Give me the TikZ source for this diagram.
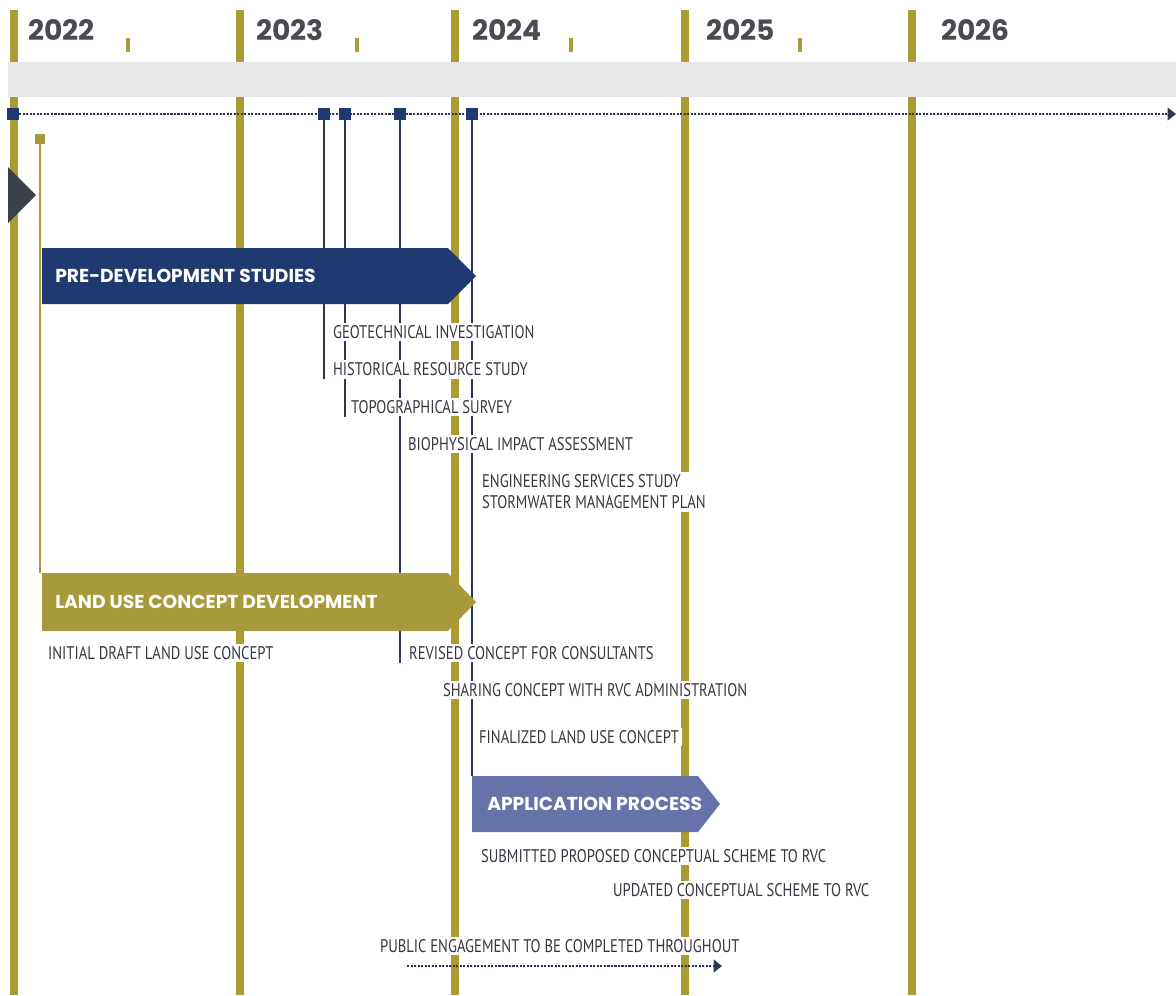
\documentclass[tikz,border=0pt]{standalone}
\usepackage{fontspec}
\setmainfont{PT Sans}
\newfontfamily\yearfont{Poppins}
\newfontfamily\narrowfont[FakeStretch=0.80]{PT Sans}
\usetikzlibrary{positioning,arrows.meta}

\definecolor{yeargold}{RGB}{170,156,48}
\definecolor{bargold}{RGB}{167,153,60}
\definecolor{navy}{RGB}{31,58,112}
\definecolor{slate}{RGB}{102,115,168}
\definecolor{band}{RGB}{230,231,233}
\definecolor{ink}{RGB}{55,55,64}
\definecolor{yearink}{RGB}{72,75,82}
\definecolor{stemink}{RGB}{45,55,85}
\definecolor{pointer}{RGB}{60,64,72}

\pgfdeclarelayer{back}
\pgfdeclarelayer{stems}
\pgfsetlayers{back,stems,main}

\begin{document}
\begin{tikzpicture}[x=0.025cm,y=-0.025cm]
    \tikzstyle{yearline}=[draw=yeargold,line width=5pt]
    \tikzstyle{halftick}=[draw=yeargold,line width=3.5pt]
    \tikzstyle{year}=[font=\yearfont\bfseries\fontsize{20}{24}\selectfont,text=yearink,anchor=west,inner sep=0pt]
    \tikzstyle{stem}=[draw=stemink,line width=0.8pt]
    \tikzstyle{milestone}=[fill=navy,minimum size=8.5pt,inner sep=0pt]
    \tikzstyle{task}=[font=\narrowfont\fontsize{13}{15}\selectfont,text=ink,fill=white,anchor=west,inner sep=2pt,align=left]
    \tikzstyle{bartext}=[font=\yearfont\bfseries\fontsize{13.3}{15}\selectfont,text=white,anchor=west,inner sep=0pt]
    \tikzstyle{dots}=[draw=stemink,line width=2pt,dash pattern=on 1.5pt off 1pt]

    \useasboundingbox (0,0) rectangle (1176,995);

    % years
    \begin{pgfonlayer}{back}
    \foreach \x/\yr/\lx in {14/2022/28, 240/2023/256, 455/2024/472, 685/2025/706, 912/2026/941} {
        \draw[yearline] (\x,10) -- (\x,995);
        \node (y\yr) [year] at (\lx,30) {\yr};
    }
    \foreach \x in {128,357,571,800}
        \draw[halftick] (\x,38) -- (\x,52);
    \fill[band] (8,62) rectangle (1176,97);
    \end{pgfonlayer}

    % bars
    \fill[navy]    (42,248) -- (448,248) -- (476,276) -- (448,304) -- (42,304) -- cycle;
    \fill[bargold] (42,573) coordinate (lutop) -- (448,573) -- (476,602) -- (448,631) -- (42,631) -- cycle;
    \fill[slate]   (472,776) coordinate (appnw) -- (698,776) -- (720,804) -- (698,832) -- (472,832) -- cycle;
    \node (predev)  [bartext] at (55,276)  {PRE-DEVELOPMENT STUDIES};
    \node (landuse) [bartext] at (55,602)  {LAND USE CONCEPT DEVELOPMENT};
    \node (app)     [bartext] at (487,804) {APPLICATION PROCESS};
    \fill[pointer] (8,167) -- (36,195) -- (8,223) -- cycle;

    % timeline
    \node (m0) [milestone] at (13,114) {};
    \node (m1) [milestone] at (324,114) {};
    \node (m2) [milestone] at (345,114) {};
    \node (m3) [milestone] at (400,114) {};
    \node (m4) [milestone] at (472,114) {};
    \coordinate (tlend) at (1176,114);
    \begin{pgfonlayer}{back}
    \draw[dots,-{Triangle[length=6pt,width=9pt]},fill=stemink] (m0.east) -- (tlend);
    \end{pgfonlayer}

    \node (start) [fill=bargold,minimum size=7pt,inner sep=0pt] at (40,139) {};

    % labels
    \node (geo)       [task] at (330,332) {GEOTECHNICAL INVESTIGATION};
    \node (hist)      [task, below right=0.45cm and 0cm of geo.south west] {HISTORICAL RESOURCE STUDY};
    \node (topo)      [task] at (348,407) {TOPOGRAPHICAL SURVEY};
    \node (bio)       [task] at (405,444) {BIOPHYSICAL IMPACT ASSESSMENT};
    \node (eng)       [task] at (479,492) {ENGINEERING SERVICES STUDY\\STORMWATER MANAGEMENT PLAN};
    \node (initial)   [task] at (45,653)  {INITIAL DRAFT LAND USE CONCEPT};
    \node (revised)   [task] at (406,653) {REVISED CONCEPT FOR CONSULTANTS};
    \node (sharing)   [task] at (440,690) {SHARING CONCEPT WITH RVC ADMINISTRATION};
    \node (final)     [task] at (476,737) {FINALIZED LAND USE CONCEPT};
    \node (submitted) [task] at (478,856) {SUBMITTED PROPOSED CONCEPTUAL SCHEME TO RVC};
    \node (updated)   [task] at (610,890) {UPDATED CONCEPTUAL SCHEME TO RVC};
    \node (public)    [task] at (377,946) {PUBLIC ENGAGEMENT TO BE COMPLETED THROUGHOUT};
    \coordinate (pestart) at (407,966);
    \coordinate (peend)   at (722,966);
    \draw[dots,-{Triangle[length=6pt,width=9pt]},fill=stemink] (pestart) -- (peend);

    % stems
    \begin{pgfonlayer}{stems}
    \draw[stem] (m1) -- (m1 |- hist.south);
    \draw[stem] (m2) -- (m2 |- topo.south);
    \draw[stem] (m3) -- (m3 |- revised.south);
    \draw[stem] (m4) -- (m4 |- appnw);
    \draw[bargold,line width=1.4pt] (start) -- (start |- lutop);
    \end{pgfonlayer}
\end{tikzpicture}
\end{document}
